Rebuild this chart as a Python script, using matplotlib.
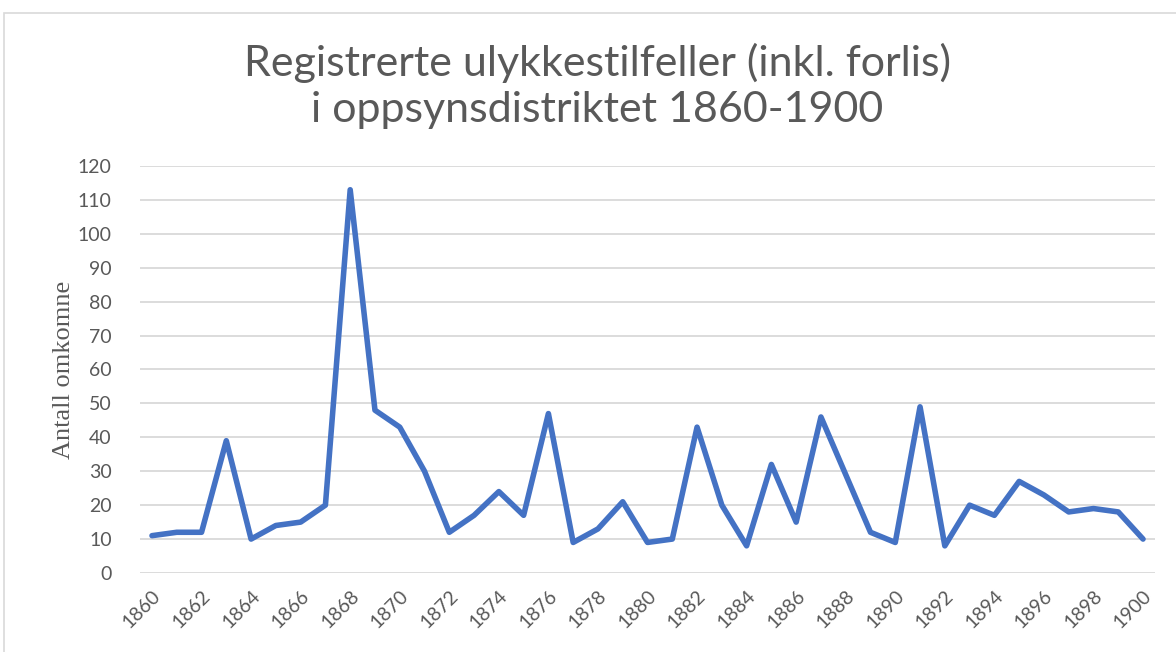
import numpy as np
import matplotlib
matplotlib.use('Agg')
import matplotlib.pyplot as plt
from matplotlib.patches import Rectangle

years = list(range(1860, 1901))
omkomne = [11, 12, 12, 39, 10, 14, 15, 20, 113, 48,
           43, 30, 12, 17, 24, 17, 47, 9, 13, 21,
           9, 10, 43, 20, 8, 32, 15, 46, 29, 12,
           9, 49, 8, 20, 17, 27, 23, 18, 19, 18, 10]
title = 'Registrerte ulykkestilfeller (inkl. forlis)\ni oppsynsdistriktet 1860-1900'
ylabel = 'Antall omkomne'

grey = '#595959'
plt.rcParams['font.family'] = ['Lato', 'DejaVu Sans']

fig = plt.figure(figsize=(11.76, 6.52), dpi=100)
fig.patches.append(Rectangle((4/1176, -0.01), 1.2, 1 - 13/652 + 0.01,
                             transform=fig.transFigure, fill=False,
                             edgecolor='#d9d9d9', linewidth=1.2))
ax = fig.add_axes([0.1187, 0.1212, 0.8638, 0.6242])

x = np.arange(len(years))
ax.plot(x, omkomne, color='#4472C4', linewidth=4.0, solid_joinstyle='round',
        solid_capstyle='round', zorder=3)

ax.set_xlim(-0.5, len(years) - 0.5)
ax.set_ylim(0, 120)
ax.set_yticks(np.arange(0, 121, 10))
ax.yaxis.grid(True, color='#d9d9d9', linewidth=1.3)
ax.set_axisbelow(True)
for s in ax.spines.values():
    s.set_visible(False)
ax.tick_params(axis='both', length=0, colors=grey, labelsize=14)
ax.tick_params(axis='y', pad=20)

ax.set_xticks(x[::2])
ax.set_xticklabels([str(y) for y in years[::2]], rotation=45, ha='right',
                   rotation_mode='anchor')
ax.tick_params(axis='x', pad=10)

ax.set_ylabel(ylabel, fontsize=19, color=grey, family=['Liberation Serif'], labelpad=2)

fig.text(0.508, 0.868, title, ha='center', va='center', fontsize=31,
         color=grey, linespacing=1.25)

fig.savefig('out.png', dpi=100)
